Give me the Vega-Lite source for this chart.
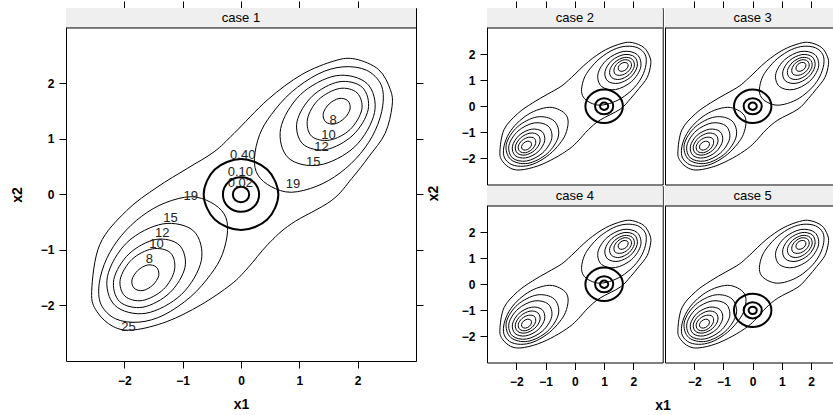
{
"$schema": "https://vega.github.io/schema/vega-lite/v6.json",
"padding": {"left": 9, "top": 0, "right": 0, "bottom": 0},
"spacing": 2,
"datasets": {
"thin": [
{"s":"b","c":"L19","i":0,"x":-0.86,"y":-0.04},{"s":"b","c":"L19","i":1,"x":-0.52,"y":-0.14},{"s":"b","c":"L19","i":2,"x":-0.29,"y":-0.35},{"s":"b","c":"L19","i":3,"x":-0.23,"y":-0.65},{"s":"b","c":"L19","i":4,"x":-0.32,"y":-1.08},{"s":"b","c":"L19","i":5,"x":-0.52,"y":-1.44},{"s":"b","c":"L19","i":6,"x":-0.86,"y":-1.84},{"s":"b","c":"L19","i":7,"x":-1.32,"y":-2.17},{"s":"b","c":"L19","i":8,"x":-1.75,"y":-2.30},{"s":"b","c":"L19","i":9,"x":-2.15,"y":-2.24},{"s":"b","c":"L19","i":10,"x":-2.40,"y":-1.98},{"s":"b","c":"L19","i":11,"x":-2.43,"y":-1.60},{"s":"b","c":"L19","i":12,"x":-2.30,"y":-1.15},{"s":"b","c":"L19","i":13,"x":-2.05,"y":-0.74},{"s":"b","c":"L19","i":14,"x":-1.70,"y":-0.39},{"s":"b","c":"L19","i":15,"x":-1.30,"y":-0.15},
{"s":"b","c":"U19","i":0,"x":0.86,"y":0.04},{"s":"b","c":"U19","i":1,"x":0.52,"y":0.14},{"s":"b","c":"U19","i":2,"x":0.29,"y":0.35},{"s":"b","c":"U19","i":3,"x":0.23,"y":0.65},{"s":"b","c":"U19","i":4,"x":0.32,"y":1.08},{"s":"b","c":"U19","i":5,"x":0.52,"y":1.44},{"s":"b","c":"U19","i":6,"x":0.86,"y":1.84},{"s":"b","c":"U19","i":7,"x":1.32,"y":2.17},{"s":"b","c":"U19","i":8,"x":1.75,"y":2.30},{"s":"b","c":"U19","i":9,"x":2.15,"y":2.24},{"s":"b","c":"U19","i":10,"x":2.40,"y":1.98},{"s":"b","c":"U19","i":11,"x":2.43,"y":1.60},{"s":"b","c":"U19","i":12,"x":2.30,"y":1.15},{"s":"b","c":"U19","i":13,"x":2.05,"y":0.74},{"s":"b","c":"U19","i":14,"x":1.70,"y":0.39},{"s":"b","c":"U19","i":15,"x":1.30,"y":0.15},
{"s":"b","c":"O","i":0,"x":-2.56,"y":-1.75},{"s":"b","c":"O","i":1,"x":-2.42,"y":-0.90},{"s":"b","c":"O","i":2,"x":-1.96,"y":-0.29},{"s":"b","c":"O","i":3,"x":-1.44,"y":0.13},{"s":"b","c":"O","i":4,"x":-0.92,"y":0.47},{"s":"b","c":"O","i":5,"x":-0.46,"y":0.77},{"s":"b","c":"O","i":6,"x":-0.12,"y":1.10},{"s":"b","c":"O","i":7,"x":0.46,"y":1.71},{"s":"b","c":"O","i":8,"x":1.04,"y":2.16},{"s":"b","c":"O","i":9,"x":1.61,"y":2.41},{"s":"b","c":"O","i":10,"x":1.96,"y":2.44},{"s":"b","c":"O","i":11,"x":2.36,"y":2.25},{"s":"b","c":"O","i":12,"x":2.56,"y":1.89},{"s":"b","c":"O","i":13,"x":2.59,"y":1.59},{"s":"b","c":"O","i":14,"x":2.47,"y":1.10},{"s":"b","c":"O","i":15,"x":2.19,"y":0.68},{"s":"b","c":"O","i":16,"x":1.90,"y":0.29},{"s":"b","c":"O","i":17,"x":1.55,"y":-0.11},{"s":"b","c":"O","i":18,"x":0.86,"y":-0.53},{"s":"b","c":"O","i":19,"x":0.46,"y":-0.90},{"s":"b","c":"O","i":20,"x":0.12,"y":-1.32},{"s":"b","c":"O","i":21,"x":-0.17,"y":-1.62},{"s":"b","c":"O","i":22,"x":-0.69,"y":-1.99},{"s":"b","c":"O","i":23,"x":-1.27,"y":-2.29},{"s":"b","c":"O","i":24,"x":-1.84,"y":-2.44},{"s":"b","c":"O","i":25,"x":-2.19,"y":-2.38},{"s":"b","c":"O","i":26,"x":-2.47,"y":-2.11},
{"s":"1","c":"L8","i":0,"x":-1.45,"y":-1.31},{"s":"1","c":"L8","i":1,"x":-1.60,"y":-1.27},{"s":"1","c":"L8","i":2,"x":-1.77,"y":-1.37},{"s":"1","c":"L8","i":3,"x":-1.87,"y":-1.54},{"s":"1","c":"L8","i":4,"x":-1.83,"y":-1.69},{"s":"1","c":"L8","i":5,"x":-1.68,"y":-1.73},{"s":"1","c":"L8","i":6,"x":-1.51,"y":-1.63},{"s":"1","c":"L8","i":7,"x":-1.41,"y":-1.46},
{"s":"1","c":"U8","i":0,"x":1.45,"y":1.31},{"s":"1","c":"U8","i":1,"x":1.60,"y":1.27},{"s":"1","c":"U8","i":2,"x":1.77,"y":1.37},{"s":"1","c":"U8","i":3,"x":1.87,"y":1.54},{"s":"1","c":"U8","i":4,"x":1.83,"y":1.69},{"s":"1","c":"U8","i":5,"x":1.68,"y":1.73},{"s":"1","c":"U8","i":6,"x":1.51,"y":1.63},{"s":"1","c":"U8","i":7,"x":1.41,"y":1.46},
{"s":"1","c":"L10","i":0,"x":-1.21,"y":-1.05},{"s":"1","c":"L10","i":1,"x":-1.52,"y":-0.98},{"s":"1","c":"L10","i":2,"x":-1.87,"y":-1.17},{"s":"1","c":"L10","i":3,"x":-2.07,"y":-1.53},{"s":"1","c":"L10","i":4,"x":-1.99,"y":-1.83},{"s":"1","c":"L10","i":5,"x":-1.69,"y":-1.91},{"s":"1","c":"L10","i":6,"x":-1.33,"y":-1.71},{"s":"1","c":"L10","i":7,"x":-1.14,"y":-1.36},
{"s":"1","c":"U10","i":0,"x":1.21,"y":1.05},{"s":"1","c":"U10","i":1,"x":1.52,"y":0.98},{"s":"1","c":"U10","i":2,"x":1.87,"y":1.17},{"s":"1","c":"U10","i":3,"x":2.07,"y":1.53},{"s":"1","c":"U10","i":4,"x":1.99,"y":1.83},{"s":"1","c":"U10","i":5,"x":1.69,"y":1.91},{"s":"1","c":"U10","i":6,"x":1.33,"y":1.71},{"s":"1","c":"U10","i":7,"x":1.14,"y":1.36},
{"s":"1","c":"L12","i":0,"x":-1.06,"y":-0.91},{"s":"1","c":"L12","i":1,"x":-1.46,"y":-0.81},{"s":"1","c":"L12","i":2,"x":-1.92,"y":-1.07},{"s":"1","c":"L12","i":3,"x":-2.18,"y":-1.53},{"s":"1","c":"L12","i":4,"x":-2.08,"y":-1.93},{"s":"1","c":"L12","i":5,"x":-1.68,"y":-2.03},{"s":"1","c":"L12","i":6,"x":-1.22,"y":-1.77},{"s":"1","c":"L12","i":7,"x":-0.96,"y":-1.31},
{"s":"1","c":"U12","i":0,"x":1.06,"y":0.91},{"s":"1","c":"U12","i":1,"x":1.46,"y":0.81},{"s":"1","c":"U12","i":2,"x":1.92,"y":1.07},{"s":"1","c":"U12","i":3,"x":2.18,"y":1.53},{"s":"1","c":"U12","i":4,"x":2.08,"y":1.93},{"s":"1","c":"U12","i":5,"x":1.68,"y":2.03},{"s":"1","c":"U12","i":6,"x":1.22,"y":1.77},{"s":"1","c":"U12","i":7,"x":0.96,"y":1.31},
{"s":"1","c":"L15","i":0,"x":-0.81,"y":-0.66},{"s":"1","c":"L15","i":1,"x":-1.34,"y":-0.53},{"s":"1","c":"L15","i":2,"x":-1.95,"y":-0.86},{"s":"1","c":"L15","i":3,"x":-2.29,"y":-1.48},{"s":"1","c":"L15","i":4,"x":-2.16,"y":-2.00},{"s":"1","c":"L15","i":5,"x":-1.63,"y":-2.14},{"s":"1","c":"L15","i":6,"x":-1.02,"y":-1.80},{"s":"1","c":"L15","i":7,"x":-0.68,"y":-1.19},
{"s":"1","c":"U15","i":0,"x":0.81,"y":0.66},{"s":"1","c":"U15","i":1,"x":1.34,"y":0.53},{"s":"1","c":"U15","i":2,"x":1.95,"y":0.86},{"s":"1","c":"U15","i":3,"x":2.29,"y":1.48},{"s":"1","c":"U15","i":4,"x":2.16,"y":2.00},{"s":"1","c":"U15","i":5,"x":1.63,"y":2.14},{"s":"1","c":"U15","i":6,"x":1.02,"y":1.80},{"s":"1","c":"U15","i":7,"x":0.68,"y":1.19},
{"s":"r","c":"LR1","i":0,"x":-1.51,"y":-1.37},{"s":"r","c":"LR1","i":1,"x":-1.62,"y":-1.34},{"s":"r","c":"LR1","i":2,"x":-1.75,"y":-1.41},{"s":"r","c":"LR1","i":3,"x":-1.82,"y":-1.54},{"s":"r","c":"LR1","i":4,"x":-1.79,"y":-1.65},{"s":"r","c":"LR1","i":5,"x":-1.68,"y":-1.68},{"s":"r","c":"LR1","i":6,"x":-1.55,"y":-1.61},{"s":"r","c":"LR1","i":7,"x":-1.48,"y":-1.48},
{"s":"r","c":"LR2","i":0,"x":-1.38,"y":-1.23},{"s":"r","c":"LR2","i":1,"x":-1.58,"y":-1.19},{"s":"r","c":"LR2","i":2,"x":-1.80,"y":-1.31},{"s":"r","c":"LR2","i":3,"x":-1.93,"y":-1.53},{"s":"r","c":"LR2","i":4,"x":-1.88,"y":-1.73},{"s":"r","c":"LR2","i":5,"x":-1.68,"y":-1.78},{"s":"r","c":"LR2","i":6,"x":-1.46,"y":-1.65},{"s":"r","c":"LR2","i":7,"x":-1.34,"y":-1.43},
{"s":"r","c":"LR3","i":0,"x":-1.26,"y":-1.10},{"s":"r","c":"LR3","i":1,"x":-1.53,"y":-1.03},{"s":"r","c":"LR3","i":2,"x":-1.85,"y":-1.21},{"s":"r","c":"LR3","i":3,"x":-2.03,"y":-1.53},{"s":"r","c":"LR3","i":4,"x":-1.96,"y":-1.80},{"s":"r","c":"LR3","i":5,"x":-1.69,"y":-1.87},{"s":"r","c":"LR3","i":6,"x":-1.37,"y":-1.69},{"s":"r","c":"LR3","i":7,"x":-1.19,"y":-1.37},
{"s":"r","c":"LR4","i":0,"x":-1.12,"y":-0.97},{"s":"r","c":"LR4","i":1,"x":-1.48,"y":-0.88},{"s":"r","c":"LR4","i":2,"x":-1.90,"y":-1.11},{"s":"r","c":"LR4","i":3,"x":-2.13,"y":-1.53},{"s":"r","c":"LR4","i":4,"x":-2.04,"y":-1.89},{"s":"r","c":"LR4","i":5,"x":-1.68,"y":-1.98},{"s":"r","c":"LR4","i":6,"x":-1.26,"y":-1.75},{"s":"r","c":"LR4","i":7,"x":-1.03,"y":-1.33},
{"s":"r","c":"LR5","i":0,"x":-0.91,"y":-0.76},{"s":"r","c":"LR5","i":1,"x":-1.39,"y":-0.64},{"s":"r","c":"LR5","i":2,"x":-1.94,"y":-0.95},{"s":"r","c":"LR5","i":3,"x":-2.25,"y":-1.50},{"s":"r","c":"LR5","i":4,"x":-2.13,"y":-1.98},{"s":"r","c":"LR5","i":5,"x":-1.65,"y":-2.10},{"s":"r","c":"LR5","i":6,"x":-1.10,"y":-1.79},{"s":"r","c":"LR5","i":7,"x":-0.79,"y":-1.24},
{"s":"r","c":"LR6","i":0,"x":-0.71,"y":-0.56},{"s":"r","c":"LR6","i":1,"x":-1.29,"y":-0.41},{"s":"r","c":"LR6","i":2,"x":-1.96,"y":-0.79},{"s":"r","c":"LR6","i":3,"x":-2.34,"y":-1.46},{"s":"r","c":"LR6","i":4,"x":-2.19,"y":-2.04},{"s":"r","c":"LR6","i":5,"x":-1.61,"y":-2.19},{"s":"r","c":"LR6","i":6,"x":-0.94,"y":-1.81},{"s":"r","c":"LR6","i":7,"x":-0.56,"y":-1.14},
{"s":"r","c":"UR1","i":0,"x":1.51,"y":1.37},{"s":"r","c":"UR1","i":1,"x":1.62,"y":1.34},{"s":"r","c":"UR1","i":2,"x":1.75,"y":1.41},{"s":"r","c":"UR1","i":3,"x":1.82,"y":1.54},{"s":"r","c":"UR1","i":4,"x":1.79,"y":1.65},{"s":"r","c":"UR1","i":5,"x":1.68,"y":1.68},{"s":"r","c":"UR1","i":6,"x":1.55,"y":1.61},{"s":"r","c":"UR1","i":7,"x":1.48,"y":1.48},
{"s":"r","c":"UR2","i":0,"x":1.38,"y":1.23},{"s":"r","c":"UR2","i":1,"x":1.58,"y":1.19},{"s":"r","c":"UR2","i":2,"x":1.80,"y":1.31},{"s":"r","c":"UR2","i":3,"x":1.93,"y":1.53},{"s":"r","c":"UR2","i":4,"x":1.88,"y":1.73},{"s":"r","c":"UR2","i":5,"x":1.68,"y":1.78},{"s":"r","c":"UR2","i":6,"x":1.46,"y":1.65},{"s":"r","c":"UR2","i":7,"x":1.34,"y":1.43},
{"s":"r","c":"UR3","i":0,"x":1.26,"y":1.10},{"s":"r","c":"UR3","i":1,"x":1.53,"y":1.03},{"s":"r","c":"UR3","i":2,"x":1.85,"y":1.21},{"s":"r","c":"UR3","i":3,"x":2.03,"y":1.53},{"s":"r","c":"UR3","i":4,"x":1.96,"y":1.80},{"s":"r","c":"UR3","i":5,"x":1.69,"y":1.87},{"s":"r","c":"UR3","i":6,"x":1.37,"y":1.69},{"s":"r","c":"UR3","i":7,"x":1.19,"y":1.37},
{"s":"r","c":"UR4","i":0,"x":1.12,"y":0.97},{"s":"r","c":"UR4","i":1,"x":1.48,"y":0.88},{"s":"r","c":"UR4","i":2,"x":1.90,"y":1.11},{"s":"r","c":"UR4","i":3,"x":2.13,"y":1.53},{"s":"r","c":"UR4","i":4,"x":2.04,"y":1.89},{"s":"r","c":"UR4","i":5,"x":1.68,"y":1.98},{"s":"r","c":"UR4","i":6,"x":1.26,"y":1.75},{"s":"r","c":"UR4","i":7,"x":1.03,"y":1.33},
{"s":"r","c":"UR5","i":0,"x":0.91,"y":0.76},{"s":"r","c":"UR5","i":1,"x":1.39,"y":0.64},{"s":"r","c":"UR5","i":2,"x":1.94,"y":0.95},{"s":"r","c":"UR5","i":3,"x":2.25,"y":1.50},{"s":"r","c":"UR5","i":4,"x":2.13,"y":1.98},{"s":"r","c":"UR5","i":5,"x":1.65,"y":2.10},{"s":"r","c":"UR5","i":6,"x":1.10,"y":1.79},{"s":"r","c":"UR5","i":7,"x":0.79,"y":1.24}
],
"circles": [
{"g":"o","c":"a","i":0,"x":0.14,"y":0},{"g":"o","c":"a","i":1,"x":0.10,"y":0.10},{"g":"o","c":"a","i":2,"x":0,"y":0.14},{"g":"o","c":"a","i":3,"x":-0.10,"y":0.10},{"g":"o","c":"a","i":4,"x":-0.14,"y":0},{"g":"o","c":"a","i":5,"x":-0.10,"y":-0.10},{"g":"o","c":"a","i":6,"x":0,"y":-0.14},{"g":"o","c":"a","i":7,"x":0.10,"y":-0.10},
{"g":"o","c":"b","i":0,"x":0.31,"y":0},{"g":"o","c":"b","i":1,"x":0.22,"y":0.22},{"g":"o","c":"b","i":2,"x":0,"y":0.31},{"g":"o","c":"b","i":3,"x":-0.22,"y":0.22},{"g":"o","c":"b","i":4,"x":-0.31,"y":0},{"g":"o","c":"b","i":5,"x":-0.22,"y":-0.22},{"g":"o","c":"b","i":6,"x":0,"y":-0.31},{"g":"o","c":"b","i":7,"x":0.22,"y":-0.22},
{"g":"o","c":"c","i":0,"x":0.64,"y":0},{"g":"o","c":"c","i":1,"x":0.45,"y":0.45},{"g":"o","c":"c","i":2,"x":0,"y":0.64},{"g":"o","c":"c","i":3,"x":-0.45,"y":0.45},{"g":"o","c":"c","i":4,"x":-0.64,"y":0},{"g":"o","c":"c","i":5,"x":-0.45,"y":-0.45},{"g":"o","c":"c","i":6,"x":0,"y":-0.64},{"g":"o","c":"c","i":7,"x":0.45,"y":-0.45},
{"g":"r","c":"a","i":0,"x":1.14,"y":0},{"g":"r","c":"a","i":1,"x":1.10,"y":0.10},{"g":"r","c":"a","i":2,"x":1,"y":0.14},{"g":"r","c":"a","i":3,"x":0.90,"y":0.10},{"g":"r","c":"a","i":4,"x":0.86,"y":0},{"g":"r","c":"a","i":5,"x":0.90,"y":-0.10},{"g":"r","c":"a","i":6,"x":1,"y":-0.14},{"g":"r","c":"a","i":7,"x":1.10,"y":-0.10},
{"g":"r","c":"b","i":0,"x":1.31,"y":0},{"g":"r","c":"b","i":1,"x":1.22,"y":0.22},{"g":"r","c":"b","i":2,"x":1,"y":0.31},{"g":"r","c":"b","i":3,"x":0.78,"y":0.22},{"g":"r","c":"b","i":4,"x":0.69,"y":0},{"g":"r","c":"b","i":5,"x":0.78,"y":-0.22},{"g":"r","c":"b","i":6,"x":1,"y":-0.31},{"g":"r","c":"b","i":7,"x":1.22,"y":-0.22},
{"g":"r","c":"c","i":0,"x":1.64,"y":0},{"g":"r","c":"c","i":1,"x":1.45,"y":0.45},{"g":"r","c":"c","i":2,"x":1,"y":0.64},{"g":"r","c":"c","i":3,"x":0.55,"y":0.45},{"g":"r","c":"c","i":4,"x":0.36,"y":0},{"g":"r","c":"c","i":5,"x":0.55,"y":-0.45},{"g":"r","c":"c","i":6,"x":1,"y":-0.64},{"g":"r","c":"c","i":7,"x":1.45,"y":-0.45},
{"g":"d","c":"a","i":0,"x":0.14,"y":-1},{"g":"d","c":"a","i":1,"x":0.10,"y":-0.90},{"g":"d","c":"a","i":2,"x":0,"y":-0.86},{"g":"d","c":"a","i":3,"x":-0.10,"y":-0.90},{"g":"d","c":"a","i":4,"x":-0.14,"y":-1},{"g":"d","c":"a","i":5,"x":-0.10,"y":-1.10},{"g":"d","c":"a","i":6,"x":0,"y":-1.14},{"g":"d","c":"a","i":7,"x":0.10,"y":-1.10},
{"g":"d","c":"b","i":0,"x":0.31,"y":-1},{"g":"d","c":"b","i":1,"x":0.22,"y":-0.78},{"g":"d","c":"b","i":2,"x":0,"y":-0.69},{"g":"d","c":"b","i":3,"x":-0.22,"y":-0.78},{"g":"d","c":"b","i":4,"x":-0.31,"y":-1},{"g":"d","c":"b","i":5,"x":-0.22,"y":-1.22},{"g":"d","c":"b","i":6,"x":0,"y":-1.31},{"g":"d","c":"b","i":7,"x":0.22,"y":-1.22},
{"g":"d","c":"c","i":0,"x":0.64,"y":-1},{"g":"d","c":"c","i":1,"x":0.45,"y":-0.55},{"g":"d","c":"c","i":2,"x":0,"y":-0.36},{"g":"d","c":"c","i":3,"x":-0.45,"y":-0.55},{"g":"d","c":"c","i":4,"x":-0.64,"y":-1},{"g":"d","c":"c","i":5,"x":-0.45,"y":-1.45},{"g":"d","c":"c","i":6,"x":0,"y":-1.64},{"g":"d","c":"c","i":7,"x":0.45,"y":-1.45}
],
"labels1": [
{"t":"8","x":-1.57,"y":-1.17},{"t":"10","x":-1.45,"y":-0.89},{"t":"12","x":-1.35,"y":-0.70},{"t":"15","x":-1.21,"y":-0.43},{"t":"19","x":-0.86,"y":-0.02},{"t":"25","x":-1.93,"y":-2.38},
{"t":"8","x":1.58,"y":1.35},{"t":"10","x":1.50,"y":1.07},{"t":"12","x":1.38,"y":0.86},{"t":"15","x":1.24,"y":0.59},{"t":"19","x":0.89,"y":0.19},
{"t":"0.40","x":0.03,"y":0.71},{"t":"0.10","x":-0.01,"y":0.41},{"t":"0.02","x":-0.01,"y":0.21}
]
},
"hconcat": [
{"width": 350, "height": 353,
 "layer": [
  {"data": {"values": [{"label": "case 1"}]}, "mark": {"type": "rect", "fill": "#efefef"},
   "encoding": {"x": {"datum": -3, "type": "quantitative", "scale": {"domain": [-3, 3], "nice": false, "zero": false}, "axis": null}, "x2": {"datum": 3},
    "y": {"datum": 3, "type": "quantitative", "scale": {"domain": [-3, 3.36], "nice": false, "zero": false}, "axis": null}, "y2": {"datum": 3.36}}},
  {"data": {"name": "thin"}, "transform": [{"filter": "datum.s != 'r'"}],
   "mark": {"type": "line", "interpolate": "cardinal-closed", "strokeWidth": 1, "color": "black"},
   "encoding": {
    "x": {"field": "x", "type": "quantitative", "scale": {"domain": [-3, 3], "nice": false, "zero": false}, "axis": {"values": [-2, -1, 0, 1, 2], "title": "x1", "tickSize": 7, "labelPadding": 7, "titlePadding": 11}},
    "y": {"field": "y", "type": "quantitative", "scale": {"domain": [-3, 3.36], "nice": false, "zero": false}, "axis": {"values": [-2, -1, 0, 1, 2], "title": "x2", "tickSize": 7, "labelPadding": 5, "titlePadding": 16, "titleY": 186.5}},
    "detail": {"field": "c"}, "order": {"field": "i", "type": "quantitative"}}},
  {"data": {"name": "circles"}, "transform": [{"filter": "datum.g == 'o'"}],
   "mark": {"type": "line", "interpolate": "cardinal-closed", "strokeWidth": 2, "color": "black"},
   "encoding": {
    "x": {"field": "x", "type": "quantitative", "scale": {"domain": [-3, 3], "nice": false, "zero": false}, "axis": {"orient": "top", "values": [-2, -1, 0, 1, 2], "labels": false, "title": null, "tickSize": 7}},
    "y": {"field": "y", "type": "quantitative", "scale": {"domain": [-3, 3.36], "nice": false, "zero": false}, "axis": {"orient": "right", "values": [-2, -1, 0, 1, 2], "labels": false, "title": null, "tickSize": 7}},
    "detail": {"field": "c"}, "order": {"field": "i", "type": "quantitative"}}},
  {"data": {"name": "labels1"},
   "mark": {"type": "text", "fontSize": 13, "color": "#222222", "baseline": "middle"},
   "encoding": {
    "x": {"field": "x", "type": "quantitative", "scale": {"domain": [-3, 3], "nice": false, "zero": false}, "axis": null},
    "y": {"field": "y", "type": "quantitative", "scale": {"domain": [-3, 3.36], "nice": false, "zero": false}, "axis": null},
    "text": {"field": "t"}}},
  {"data": {"values": [{"label": "case 1"}]}, "mark": {"type": "rule", "color": "black", "strokeWidth": 1},
   "encoding": {"x": {"datum": -3, "type": "quantitative", "scale": {"domain": [-3, 3], "nice": false, "zero": false}, "axis": null}, "x2": {"datum": 3},
    "y": {"datum": 3, "type": "quantitative", "scale": {"domain": [-3, 3.36], "nice": false, "zero": false}, "axis": null}}},
  {"data": {"values": [{"label": "case 1"}]}, "mark": {"type": "text", "fontSize": 13, "color": "black", "baseline": "middle"},
   "encoding": {"x": {"datum": 0, "type": "quantitative", "scale": {"domain": [-3, 3], "nice": false, "zero": false}, "axis": null},
    "y": {"datum": 3.18, "type": "quantitative", "scale": {"domain": [-3, 3.36], "nice": false, "zero": false}, "axis": null}, "text": {"field": "label"}}}
 ],
 "resolve": {"axis": {"x": "independent", "y": "independent"}}},
{
"title": {"text": "x2", "orient": "left", "offset": 20, "frame": "bounds", "anchor": "middle", "dx": 13},
"hconcat": [
{
"spacing": 0,
"title": {"text": "x1", "orient": "bottom", "offset": 11, "frame": "bounds", "anchor": "middle", "dx": 14},
"vconcat": [
{"spacing": 0, "hconcat": [
 {"width": 175.7, "height": 176.5,
  "layer": [
   {"data": {"values": [{"label": "case 2"}]}, "mark": {"type": "rect", "fill": "#efefef"},
    "encoding": {"x": {"datum": -3, "type": "quantitative", "scale": {"domain": [-3, 3], "nice": false, "zero": false}, "axis": null}, "x2": {"datum": 3},
     "y": {"datum": 3, "type": "quantitative", "scale": {"domain": [-3, 3.767], "nice": false, "zero": false}, "axis": null}, "y2": {"datum": 3.767}}},
   {"data": {"name": "thin"}, "transform": [{"filter": "datum.s != '1'"}],
    "mark": {"type": "line", "interpolate": "cardinal-closed", "strokeWidth": 1, "color": "black"},
    "encoding": {
     "x": {"field": "x", "type": "quantitative", "scale": {"domain": [-3, 3], "nice": false, "zero": false}, "axis": {"orient": "top", "values": [-2, -1, 0, 1, 2], "labels": false, "title": null, "tickSize": 7}},
     "y": {"field": "y", "type": "quantitative", "scale": {"domain": [-3, 3.767], "nice": false, "zero": false}, "axis": {"values": [-2, -1, 0, 1, 2], "title": null, "tickSize": 7, "labelPadding": 5}},
     "detail": {"field": "c"}, "order": {"field": "i", "type": "quantitative"}}},
   {"data": {"name": "circles"}, "transform": [{"filter": "datum.g == 'r'"}],
    "mark": {"type": "line", "interpolate": "cardinal-closed", "strokeWidth": 2, "color": "black"},
    "encoding": {
     "x": {"field": "x", "type": "quantitative", "scale": {"domain": [-3, 3], "nice": false, "zero": false}, "axis": null},
     "y": {"field": "y", "type": "quantitative", "scale": {"domain": [-3, 3.767], "nice": false, "zero": false}, "axis": null},
     "detail": {"field": "c"}, "order": {"field": "i", "type": "quantitative"}}},
   {"data": {"values": [{"label": "case 2"}]}, "mark": {"type": "rule", "color": "black", "strokeWidth": 1},
    "encoding": {"x": {"datum": -3, "type": "quantitative", "scale": {"domain": [-3, 3], "nice": false, "zero": false}, "axis": null}, "x2": {"datum": 3},
     "y": {"datum": 3, "type": "quantitative", "scale": {"domain": [-3, 3.767], "nice": false, "zero": false}, "axis": null}}},
   {"data": {"values": [{"label": "case 2"}]}, "mark": {"type": "text", "fontSize": 13, "color": "black", "baseline": "middle"},
    "encoding": {"x": {"datum": 0, "type": "quantitative", "scale": {"domain": [-3, 3], "nice": false, "zero": false}, "axis": null},
     "y": {"datum": 3.38, "type": "quantitative", "scale": {"domain": [-3, 3.767], "nice": false, "zero": false}, "axis": null}, "text": {"field": "label"}}}
  ],
  "resolve": {"axis": {"x": "independent", "y": "independent"}}},
 {"width": 171.3, "height": 176.5,
  "layer": [
   {"data": {"values": [{"label": "case 3"}]}, "mark": {"type": "rect", "fill": "#efefef"},
    "encoding": {"x": {"datum": -3, "type": "quantitative", "scale": {"domain": [-3, 2.86], "nice": false, "zero": false}, "axis": null}, "x2": {"datum": 2.86},
     "y": {"datum": 3, "type": "quantitative", "scale": {"domain": [-3, 3.767], "nice": false, "zero": false}, "axis": null}, "y2": {"datum": 3.767}}},
   {"data": {"name": "thin"}, "transform": [{"filter": "datum.s != '1'"}],
    "mark": {"type": "line", "interpolate": "cardinal-closed", "strokeWidth": 1, "color": "black"},
    "encoding": {
     "x": {"field": "x", "type": "quantitative", "scale": {"domain": [-3, 2.86], "nice": false, "zero": false}, "axis": {"orient": "top", "values": [-2, -1, 0, 1, 2], "labels": false, "title": null, "tickSize": 7}},
     "y": {"field": "y", "type": "quantitative", "scale": {"domain": [-3, 3.767], "nice": false, "zero": false}, "axis": null},
     "detail": {"field": "c"}, "order": {"field": "i", "type": "quantitative"}}},
   {"data": {"name": "circles"}, "transform": [{"filter": "datum.g == 'o'"}],
    "mark": {"type": "line", "interpolate": "cardinal-closed", "strokeWidth": 2, "color": "black"},
    "encoding": {
     "x": {"field": "x", "type": "quantitative", "scale": {"domain": [-3, 2.86], "nice": false, "zero": false}, "axis": null},
     "y": {"field": "y", "type": "quantitative", "scale": {"domain": [-3, 3.767], "nice": false, "zero": false}, "axis": null},
     "detail": {"field": "c"}, "order": {"field": "i", "type": "quantitative"}}},
   {"data": {"values": [{"label": "case 3"}]}, "mark": {"type": "rule", "color": "black", "strokeWidth": 1},
    "encoding": {"x": {"datum": -3, "type": "quantitative", "scale": {"domain": [-3, 2.86], "nice": false, "zero": false}, "axis": null}, "x2": {"datum": 2.86},
     "y": {"datum": 3, "type": "quantitative", "scale": {"domain": [-3, 3.767], "nice": false, "zero": false}, "axis": null}}},
   {"data": {"values": [{"label": "case 3"}]}, "mark": {"type": "text", "fontSize": 13, "color": "black", "baseline": "middle"},
    "encoding": {"x": {"datum": 0, "type": "quantitative", "scale": {"domain": [-3, 2.86], "nice": false, "zero": false}, "axis": null},
     "y": {"datum": 3.38, "type": "quantitative", "scale": {"domain": [-3, 3.767], "nice": false, "zero": false}, "axis": null}, "text": {"field": "label"}}}
  ],
  "resolve": {"axis": {"x": "independent", "y": "independent"}}}
]},
{"spacing": 0, "hconcat": [
 {"width": 175.7, "height": 176.5,
  "layer": [
   {"data": {"values": [{"label": "case 4"}]}, "mark": {"type": "rect", "fill": "#efefef"},
    "encoding": {"x": {"datum": -3, "type": "quantitative", "scale": {"domain": [-3, 3], "nice": false, "zero": false}, "axis": null}, "x2": {"datum": 3},
     "y": {"datum": 3, "type": "quantitative", "scale": {"domain": [-3, 3.767], "nice": false, "zero": false}, "axis": null}, "y2": {"datum": 3.767}}},
   {"data": {"name": "thin"}, "transform": [{"filter": "datum.s != '1'"}],
    "mark": {"type": "line", "interpolate": "cardinal-closed", "strokeWidth": 1, "color": "black"},
    "encoding": {
     "x": {"field": "x", "type": "quantitative", "scale": {"domain": [-3, 3], "nice": false, "zero": false}, "axis": {"values": [-2, -1, 0, 1, 2], "title": null, "tickSize": 7, "labelPadding": 7}},
     "y": {"field": "y", "type": "quantitative", "scale": {"domain": [-3, 3.767], "nice": false, "zero": false}, "axis": {"values": [-2, -1, 0, 1, 2], "title": null, "tickSize": 7, "labelPadding": 5}},
     "detail": {"field": "c"}, "order": {"field": "i", "type": "quantitative"}}},
   {"data": {"name": "circles"}, "transform": [{"filter": "datum.g == 'r'"}],
    "mark": {"type": "line", "interpolate": "cardinal-closed", "strokeWidth": 2, "color": "black"},
    "encoding": {
     "x": {"field": "x", "type": "quantitative", "scale": {"domain": [-3, 3], "nice": false, "zero": false}, "axis": null},
     "y": {"field": "y", "type": "quantitative", "scale": {"domain": [-3, 3.767], "nice": false, "zero": false}, "axis": null},
     "detail": {"field": "c"}, "order": {"field": "i", "type": "quantitative"}}},
   {"data": {"values": [{"label": "case 4"}]}, "mark": {"type": "rule", "color": "black", "strokeWidth": 1},
    "encoding": {"x": {"datum": -3, "type": "quantitative", "scale": {"domain": [-3, 3], "nice": false, "zero": false}, "axis": null}, "x2": {"datum": 3},
     "y": {"datum": 3, "type": "quantitative", "scale": {"domain": [-3, 3.767], "nice": false, "zero": false}, "axis": null}}},
   {"data": {"values": [{"label": "case 4"}]}, "mark": {"type": "text", "fontSize": 13, "color": "black", "baseline": "middle"},
    "encoding": {"x": {"datum": 0, "type": "quantitative", "scale": {"domain": [-3, 3], "nice": false, "zero": false}, "axis": null},
     "y": {"datum": 3.38, "type": "quantitative", "scale": {"domain": [-3, 3.767], "nice": false, "zero": false}, "axis": null}, "text": {"field": "label"}}}
  ],
  "resolve": {"axis": {"x": "independent", "y": "independent"}}},
 {"width": 171.3, "height": 176.5,
  "layer": [
   {"data": {"values": [{"label": "case 5"}]}, "mark": {"type": "rect", "fill": "#efefef"},
    "encoding": {"x": {"datum": -3, "type": "quantitative", "scale": {"domain": [-3, 2.86], "nice": false, "zero": false}, "axis": null}, "x2": {"datum": 2.86},
     "y": {"datum": 3, "type": "quantitative", "scale": {"domain": [-3, 3.767], "nice": false, "zero": false}, "axis": null}, "y2": {"datum": 3.767}}},
   {"data": {"name": "thin"}, "transform": [{"filter": "datum.s != '1'"}],
    "mark": {"type": "line", "interpolate": "cardinal-closed", "strokeWidth": 1, "color": "black"},
    "encoding": {
     "x": {"field": "x", "type": "quantitative", "scale": {"domain": [-3, 2.86], "nice": false, "zero": false}, "axis": {"values": [-2, -1, 0, 1, 2], "title": null, "tickSize": 7, "labelPadding": 7}},
     "y": {"field": "y", "type": "quantitative", "scale": {"domain": [-3, 3.767], "nice": false, "zero": false}, "axis": null},
     "detail": {"field": "c"}, "order": {"field": "i", "type": "quantitative"}}},
   {"data": {"name": "circles"}, "transform": [{"filter": "datum.g == 'd'"}],
    "mark": {"type": "line", "interpolate": "cardinal-closed", "strokeWidth": 2, "color": "black"},
    "encoding": {
     "x": {"field": "x", "type": "quantitative", "scale": {"domain": [-3, 2.86], "nice": false, "zero": false}, "axis": null},
     "y": {"field": "y", "type": "quantitative", "scale": {"domain": [-3, 3.767], "nice": false, "zero": false}, "axis": null},
     "detail": {"field": "c"}, "order": {"field": "i", "type": "quantitative"}}},
   {"data": {"values": [{"label": "case 5"}]}, "mark": {"type": "rule", "color": "black", "strokeWidth": 1},
    "encoding": {"x": {"datum": -3, "type": "quantitative", "scale": {"domain": [-3, 2.86], "nice": false, "zero": false}, "axis": null}, "x2": {"datum": 2.86},
     "y": {"datum": 3, "type": "quantitative", "scale": {"domain": [-3, 3.767], "nice": false, "zero": false}, "axis": null}}},
   {"data": {"values": [{"label": "case 5"}]}, "mark": {"type": "text", "fontSize": 13, "color": "black", "baseline": "middle"},
    "encoding": {"x": {"datum": 0, "type": "quantitative", "scale": {"domain": [-3, 2.86], "nice": false, "zero": false}, "axis": null},
     "y": {"datum": 3.38, "type": "quantitative", "scale": {"domain": [-3, 3.767], "nice": false, "zero": false}, "axis": null}, "text": {"field": "label"}}}
  ],
  "resolve": {"axis": {"x": "independent", "y": "independent"}}}
]}
]
}
]
}
],
"config": {
"font": "Liberation Sans",
"view": {"stroke": "black", "strokeWidth": 1},
"axis": {"grid": false, "domain": false, "tickColor": "black", "tickWidth": 1, "labelFont": "Liberation Sans", "labelFontSize": 12, "labelFontWeight": "bold", "labelColor": "black", "titleFont": "Liberation Sans", "titleFontSize": 14, "titleFontWeight": "bold", "titleColor": "black"},
"title": {"font": "Liberation Sans", "fontSize": 14, "fontWeight": "bold", "color": "black"},
"text": {"font": "Liberation Sans"}
}
}
